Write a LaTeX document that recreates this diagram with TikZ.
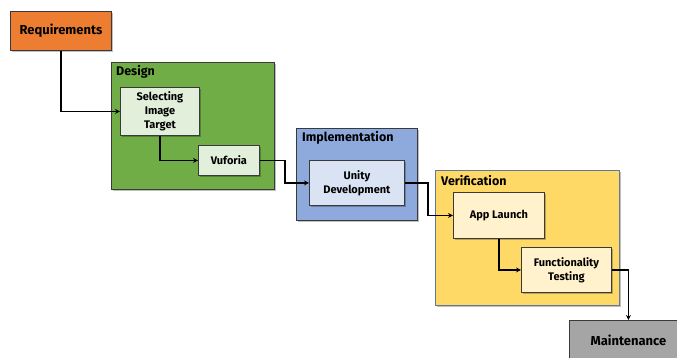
\documentclass[tikz,border=0pt]{standalone}
\usepackage{fontspec}
\setmainfont{Fira Sans}
\usetikzlibrary{arrows.meta,shadows}
\definecolor{bordc}{HTML}{3A3A3A}
\definecolor{reqc}{HTML}{ED7D31}
\definecolor{desc}{HTML}{70AD47}
\definecolor{desin}{HTML}{E2EFDA}
\definecolor{impc}{HTML}{8EA9DB}
\definecolor{impin}{HTML}{DAE3F3}
\definecolor{verc}{HTML}{FFD966}
\definecolor{verin}{HTML}{FFF2CC}
\definecolor{mntc}{HTML}{A5A5A5}
\tikzset{
  box/.style={draw=bordc, line width=0.9pt, rectangle, inner sep=0pt, anchor=north west,
    align=center, font=\bfseries\fontsize{11}{14}\selectfont,
    drop shadow={shadow xshift=1.2pt, shadow yshift=-1.2pt, fill=black, opacity=0.25}},
  bigbox/.style={box, font=\bfseries\fontsize{13}{15}\selectfont},
  grp/.style={draw=bordc, line width=0.9pt, rectangle, inner sep=0pt, anchor=north west,
    drop shadow={shadow xshift=1.2pt, shadow yshift=-1.2pt, fill=black, opacity=0.25}},
  grpitle/.style={anchor=west, inner sep=0pt, font=\bfseries\fontsize{12.5}{14}\selectfont},
  arr/.style={line width=1.4pt, -{Stealth[length=5pt,width=5pt]}}
}
\begin{document}
\begin{tikzpicture}[x=1pt,y=-1pt]
\useasboundingbox (0,0) rectangle (677,358);
% groups
\node[grp, fill=desc, minimum width=163pt, minimum height=127pt] (design) at (111,62) {};
\node[grpitle] (designt) at (116,72) {Design};
\node[grp, fill=impc, minimum width=121pt, minimum height=92pt] (impl) at (296,128) {};
\node[grpitle] (implt) at (302,138) {Implementation};
\node[grp, fill=verc, minimum width=184pt, minimum height=135pt, draw=impc!70!black] (verif) at (435,170) {};
\node[grpitle] (veriftt) at (441,181) {Verification};
% boxes
\node[bigbox, fill=reqc, minimum width=101pt, minimum height=39pt] (req) at (10,11) {Requirements};
\node[box, fill=desin, minimum width=79pt, minimum height=48pt] (sel) at (120,87) {Selecting\\Image\\Target};
\node[box, fill=desin, minimum width=61pt, minimum height=30pt] (vuf) at (198,145) {Vuforia};
\node[box, fill=impin, minimum width=95pt, minimum height=45pt] (uni) at (309,160) {Unity\\Development};
\node[box, fill=verin, minimum width=91pt, minimum height=46pt] (app) at (453,192) {App Launch};
\node[box, fill=verin, minimum width=90pt, minimum height=45pt] (fun) at (521,247) {Functionality\\Testing};
\node[bigbox, fill=mntc, minimum width=118pt, minimum height=39pt] (mnt) at (569,320) {Maintenance};
% connectors
\draw[arr] (req.south) |- (sel.west);
\draw[arr] (sel.south) |- (vuf.west);
\draw[arr] (vuf.east) -- ++(25,0) |- (uni.west);
\draw[arr] (uni.east) -- ++(23,0) |- (app.west);
\draw[arr] (app.south) |- (fun.west);
\draw[arr] (fun.east) -| (mnt.north);
\end{tikzpicture}
\end{document}
